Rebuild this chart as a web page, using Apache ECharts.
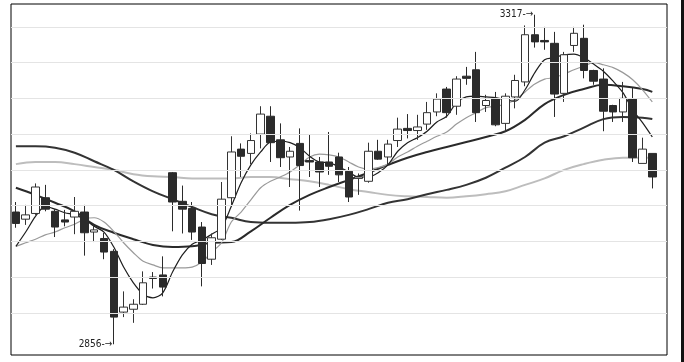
<!DOCTYPE html>
<html>
<head>
<meta charset="utf-8">
<script src="https://cdn.jsdelivr.net/npm/echarts@6/dist/echarts.min.js"></script>
<style>
html,body{margin:0;padding:0;background:#fff;}
#chart{width:684px;height:362px;}
</style>
</head>
<body>
<div id="chart"></div>
<script>
// Daily candles (left to right)
const opens  = [3041,3031,3039,3061,3042,3030,3034,3041,3013,3004,2986,2901,2905,2912,2950,2953,3096,3056,3046,3020,2975,3003,3061,3129,3123,3150,3175,3142,3118,3137,3113,3111,3111,3118,3098,3088,3084,3126,3118,3141,3158,3155,3164,3181,3213,3189,3231,3240,3190,3199,3165,3202,3223,3289,3281,3277,3207,3274,3284,3239,3227,3190,3181,3199,3109,3123];
const closes = [3025,3037,3076,3045,3020,3027,3042,3012,3016,2985,2894,2908,2912,2942,2948,2936,3055,3045,3013,2969,3005,3059,3125,3119,3141,3178,3138,3117,3126,3106,3111,3097,3105,3093,3062,3090,3126,3115,3136,3157,3155,3160,3180,3199,3180,3227,3228,3180,3197,3163,3203,3225,3289,3279,3279,3206,3261,3291,3239,3224,3182,3181,3200,3117,3129,3090];
const lows   = [3019,3023,3037,3042,3006,3021,3010,2980,2999,2975,2856,2894,2886,2911,2934,2923,3014,3011,3002,2937,2967,3002,3048,3090,3108,3130,3111,3104,3076,3043,3090,3076,3093,3083,3055,3065,3082,3114,3107,3132,3144,3142,3156,3175,3173,3177,3219,3167,3181,3161,3153,3186,3217,3271,3268,3174,3195,3265,3228,3219,3154,3167,3167,3111,3109,3074];
const highs  = [3055,3051,3081,3079,3045,3044,3062,3051,3023,3012,2989,2930,2919,2958,2957,2979,3097,3078,3055,3027,3011,3083,3147,3137,3151,3189,3189,3165,3132,3158,3150,3118,3153,3124,3104,3095,3138,3142,3142,3173,3178,3177,3195,3207,3216,3231,3244,3265,3205,3209,3207,3233,3302,3317,3300,3293,3265,3300,3303,3240,3242,3191,3223,3215,3145,3123];

// Moving-average lines
const ma5  = [2993,3013,3035,3049,3045,3040,3037,3031,3021,3013,2992,2964,2942,2926,2921,2928,2957,2981,2996,3002,3010,3019,3049,3082,3107,3125,3139,3140,3138,3131,3119,3111,3110,3104,3097,3090,3090,3096,3107,3126,3138,3145,3154,3167,3175,3194,3202,3203,3202,3201,3198,3196,3212,3236,3254,3257,3261,3262,3257,3248,3238,3224,3208,3184,3166,3146];
const ma10 = [2993,2998,3003,3009,3013,3019,3024,3031,3033,3027,3014,2998,2984,2972,2967,2963,2963,2963,2964,2971,2985,2998,3027,3041,3058,3075,3084,3090,3097,3107,3118,3122,3121,3118,3111,3104,3101,3103,3108,3118,3125,3133,3140,3147,3153,3164,3173,3180,3187,3189,3192,3198,3209,3220,3227,3229,3234,3240,3245,3250,3247,3243,3236,3226,3212,3195];
// slower averages, read at every second candle
const slowIdx = [0,2,4,6,8,10,12,14,16,18,20,22,24,26,28,30,32,34,36,38,40,42,44,46,48,50,52,54,56,58,60,62,64,65];
const ma20 = [3075,3065,3054,3042,3023,3012,3003,2995,2992,2993,2998,2999,3014,3033,3051,3065,3076,3086,3096,3107,3117,3125,3132,3139,3146,3154,3170,3192,3205,3213,3219,3217,3213,3209];
const ma30 = [3133,3133,3131,3124,3112,3100,3084,3070,3059,3048,3038,3033,3027,3026,3026,3027,3031,3037,3045,3054,3059,3066,3072,3079,3089,3103,3118,3138,3147,3159,3171,3174,3173,3171];
const ma60 = [3108,3111,3111,3108,3104,3100,3094,3091,3090,3088,3088,3088,3090,3090,3087,3084,3079,3073,3069,3065,3063,3062,3061,3063,3066,3070,3079,3088,3100,3108,3114,3117,3117,3117];

// horizontal guide levels
const gridLevels = [2900,2950,3000,3050,3100,3150,3200,3250,3300];

const days = opens.map((_, i) => 'D' + (i + 1));
days.push('');

const kData = opens.map((o, i) => [o, closes[i], lows[i], highs[i]]);
const pairs = (vals) => vals.map((v, k) => [slowIdx[k], v]);

const chart = echarts.init(document.getElementById('chart'), null, {renderer: 'canvas'});
const lblFont = '"Liberation Sans Narrow", "DejaVu Sans Condensed", "Liberation Sans", sans-serif';

chart.setOption({
  animation: false,
  backgroundColor: '#fff',
  grid: {left: 11, right: 17, top: 4, bottom: 7, show: true, borderColor: '#000', borderWidth: 1, backgroundColor: 'transparent'},
  xAxis: {type: 'category', data: days, boundaryGap: true, show: false},
  yAxis: {type: 'value', min: 2841, max: 3332, show: false, splitLine: {show: false}, scale: true},
  graphic: [{type: 'rect', left: 681, top: 0, shape: {width: 3, height: 362}, style: {fill: '#111'}, silent: true}],
  series: [
    {
      type: 'line', data: [], z: 1, silent: true,
      markLine: {
        silent: true, symbol: ['none', 'none'], label: {show: false},
        lineStyle: {color: '#e4e4e4', width: 1, type: 'solid'},
        data: gridLevels.map(v => ({yAxis: v}))
      }
    },
    {type: 'line', data: pairs(ma60), smooth: 0.4, symbol: 'none', z: 3, lineStyle: {color: '#bdbdbd', width: 2}},
    {type: 'line', data: pairs(ma30), smooth: 0.4, symbol: 'none', z: 3, lineStyle: {color: '#333', width: 2}},
    {type: 'line', data: pairs(ma20), smooth: 0.4, symbol: 'none', z: 3, lineStyle: {color: '#2a2a2a', width: 2}},
    {type: 'line', data: ma10, smooth: 0.3, symbol: 'none', z: 3, lineStyle: {color: '#9a9a9a', width: 1.2}},
    {type: 'line', data: ma5, smooth: 0.3, symbol: 'none', z: 3, lineStyle: {color: '#1e1e1e', width: 1.2}},
    {
      type: 'candlestick', data: kData, barWidth: 8, z: 4,
      itemStyle: {color: '#ffffff', color0: '#2b2b2b', borderColor: '#333333', borderColor0: '#2b2b2b', borderWidth: 1},
      markPoint: {
        symbol: 'circle', symbolSize: 1,
        itemStyle: {color: 'rgba(0,0,0,0)'},
        label: {
          show: true, position: 'left', distance: 1, color: '#222',
          fontFamily: lblFont, fontSize: 10,
          formatter: p => p.value + '-\u2192'
        },
        data: [
          {type: 'max', valueDim: 'highest'},
          {type: 'min', valueDim: 'lowest'}
        ]
      }
    }
  ]
});
</script>
</body>
</html>
